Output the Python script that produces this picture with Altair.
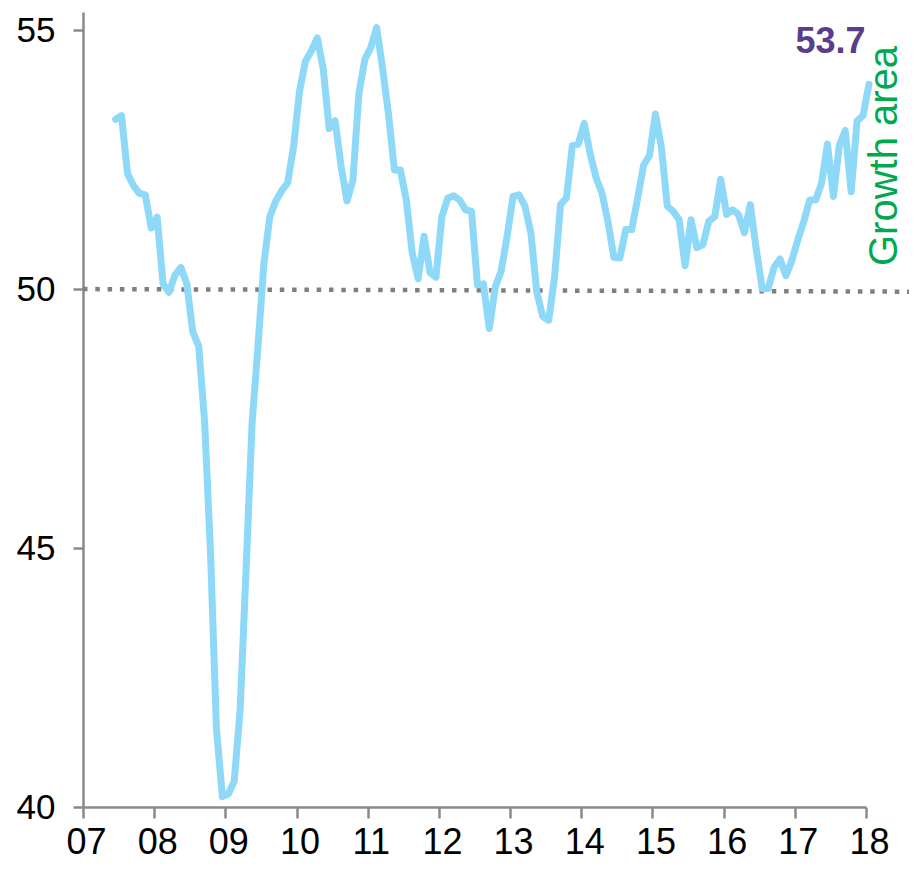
import altair as alt
import pandas as pd

# Monthly index readings, Jun 2007 .. Jan 2018
start_year = 2007
start_month = 6
values = [
    # 2007 Jun-Dec
    53.28, 53.35, 52.23, 52.0, 51.85, 51.82, 51.18,
    # 2008
    51.39, 50.1, 49.94, 50.27, 50.42, 50.1, 49.18, 48.9, 47.45, 44.9, 41.5, 40.2,
    # 2009
    40.25, 40.5, 41.9, 44.6, 47.4, 48.9, 50.5, 51.4, 51.7, 51.9, 52.05, 52.75,
    # 2010
    53.82, 54.4, 54.6, 54.85, 54.25, 53.1, 53.25, 52.38, 51.7, 52.1, 53.76, 54.43,
    # 2011
    54.66, 55.05, 54.27, 53.38, 52.3, 52.3, 51.72, 50.7, 50.2, 51.02, 50.32, 50.23,
    # 2012
    51.4, 51.76, 51.8, 51.72, 51.53, 51.5, 50.08, 50.1, 49.24, 50.04, 50.35, 51.02,
    # 2013
    51.79, 51.82, 51.6, 51.09, 49.94, 49.47, 49.4, 50.23, 51.63, 51.76, 52.77, 52.8,
    # 2014
    53.2, 52.61, 52.15, 51.85, 51.3, 50.61, 50.6, 51.15, 51.15, 51.75, 52.39, 52.58,
    # 2015
    53.38, 52.74, 51.6, 51.5, 51.34, 50.45, 51.34, 50.8, 50.86, 51.31, 51.4, 52.12,
    # 2016
    51.44, 51.53, 51.44, 51.09, 51.63, 50.77, 50.01, 50.01, 50.42, 50.58, 50.26, 50.55,
    # 2017
    50.95, 51.3, 51.72, 51.72, 52.04, 52.8, 51.79, 52.77, 53.06, 51.88, 53.25, 53.35,
    # 2018
    53.95,
]

year_ticks = list(range(2007, 2019))
y_ticks = [40, 45, 50, 55]
threshold_left = [50.0]
threshold_right = [49.95]
latest_label = ["53.7"]
area_label = ["Growth area"]

# position each monthly reading at the middle of its month
rows = []
for i, v in enumerate(values):
    m = (start_month - 1) + i
    rows.append({"t": start_year + (m + 0.5) / 12.0, "v": v})
df = pd.DataFrame(rows)

x_scale = alt.Scale(domain=[2007, 2018], nice=False)
y_scale = alt.Scale(domain=[40, 55.35], nice=False, zero=False)

x_axis = alt.Axis(
    values=year_ticks,
    labelExpr="substring(toString(datum.value), 2)",
    title=None,
    grid=False,
    domainColor="#8a8a8a",
    domainWidth=2.5,
    tickColor="#8a8a8a",
    tickWidth=2.5,
    tickSize=11,
    labelFontSize=36,
    labelFont="Liberation Sans",
    labelColor="#000000",
    labelPadding=7,
    labelOffset=3,
    labelFlush=False,
)
y_axis = alt.Axis(
    values=y_ticks,
    title=None,
    grid=False,
    domainColor="#8a8a8a",
    domainWidth=2.5,
    tickColor="#8a8a8a",
    tickWidth=2.5,
    tickSize=10,
    labelFontSize=35,
    labelFont="Liberation Sans",
    labelColor="#000000",
    labelPadding=18,
)

line = alt.Chart(df).mark_line(
    color="#8ed8f8", strokeWidth=7, strokeCap="round", strokeJoin="round"
).encode(
    x=alt.X("t:Q", scale=x_scale, axis=x_axis),
    y=alt.Y("v:Q", scale=y_scale, axis=y_axis),
)

rule_df = pd.DataFrame({"y": threshold_left, "y2": threshold_right})
rule = alt.Chart(rule_df).mark_rule(
    color="#7f7f7f", strokeWidth=4.5, strokeDash=[4.5, 7.8]
).encode(
    x=alt.value(0),
    x2=alt.value(826),
    y=alt.Y("y:Q", scale=y_scale),
    y2="y2:Q",
)

lab_df = pd.DataFrame({"t": [2017.5], "v": [54.78], "txt": latest_label})
lab = alt.Chart(lab_df).mark_text(
    font="Liberation Sans", fontSize=36, fontWeight="bold", color="#5a3e8a",
    align="center", baseline="middle",
).encode(x=alt.X("t:Q", scale=x_scale), y=alt.Y("v:Q", scale=y_scale), text="txt:N")

area_df = pd.DataFrame({"t": [2018.27], "v": [52.57], "txt": area_label})
area = alt.Chart(area_df).mark_text(
    font="Liberation Sans", fontSize=40, color="#00a84f",
    align="center", baseline="middle", angle=270,
).encode(x=alt.X("t:Q", scale=x_scale), y=alt.Y("v:Q", scale=y_scale), text="txt:N")

chart = alt.layer(rule, line, lab, area).properties(
    width=783,
    height=795,
    padding={"left": 75, "top": 4, "right": 43, "bottom": 55},
    autosize="none",
).configure_view(stroke=None)

chart.save("out.html", embed_options={"renderer": "svg", "actions": False})
